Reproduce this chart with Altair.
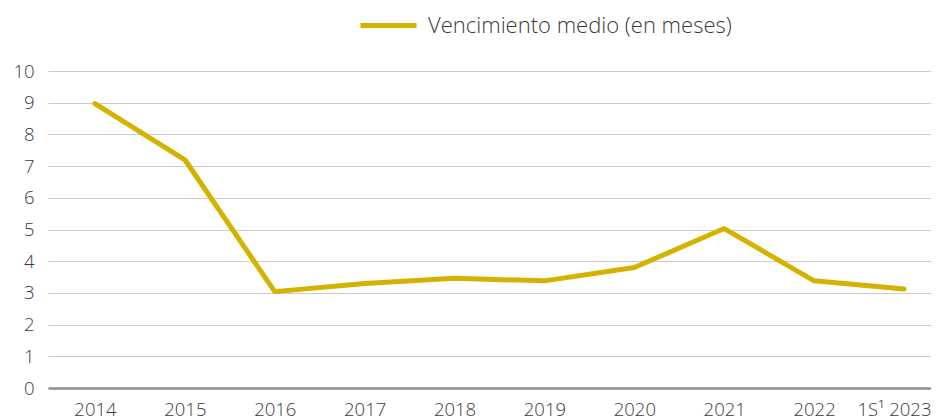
import altair as alt
import pandas as pd

years = ["2014", "2015", "2016", "2017", "2018", "2019", "2020", "2021", "2022", "1S¹ 2023"]
vencimiento = [8.97, 7.2, 3.04, 3.3, 3.46, 3.38, 3.8, 5.03, 3.38, 3.12]
series_name = "Vencimiento medio (en meses)"
y_ticks = list(range(0, 11))

df = pd.DataFrame({"year": years, "value": vencimiento, "serie": [series_name] * len(years)})

FONT = "Open Sans"
TEXT = "#3a3a3a"

chart = alt.Chart(df).mark_line(strokeWidth=5, strokeJoin="round", strokeCap="round").encode(
    x=alt.X("year:N", sort=years, title=None,
            scale=alt.Scale(type="point", padding=0.4116, align=0.635),
            axis=alt.Axis(labelAngle=0, ticks=False, grid=False, domainColor="#8c8c8c",
                          domainWidth=2.5, labelPadding=12, labelFontSize=18.5,
                          labelFontWeight=300,
                          labelOffset={"condition": {"test": "datum.label == '1S¹ 2023'", "value": -10},
                                       "value": 0},
                          labelFont=FONT, labelColor=TEXT)),
    y=alt.Y("value:Q", title=None,
            scale=alt.Scale(domain=[0, 10], nice=False),
            axis=alt.Axis(values=y_ticks, ticks=False, domain=False, gridColor="#cccccc",
                          gridWidth=1, labelPadding=14, labelFontSize=18.5,
                          labelFontWeight=300,
                          labelFont=FONT, labelColor=TEXT)),
    color=alt.Color("serie:N", title=None,
                    scale=alt.Scale(range=["#D4B300"]),
                    legend=alt.Legend(orient="none", legendX=310, legendY=-76,
                                      symbolType="stroke", symbolStrokeWidth=5,
                                      symbolSize=3136, labelFontSize=22, labelLimit=0,
                                      labelFontWeight=300,
                                      labelFont=FONT, labelColor=TEXT, labelOffset=9)),
).properties(
    width=883, height=317,
    autosize=alt.AutoSizeParams(type="none"),
    padding={"left": 40, "top": 63, "right": 0, "bottom": 32},
).configure_view(stroke=None)

chart.save("out.html", embed_options={"renderer": "svg", "actions": False})
